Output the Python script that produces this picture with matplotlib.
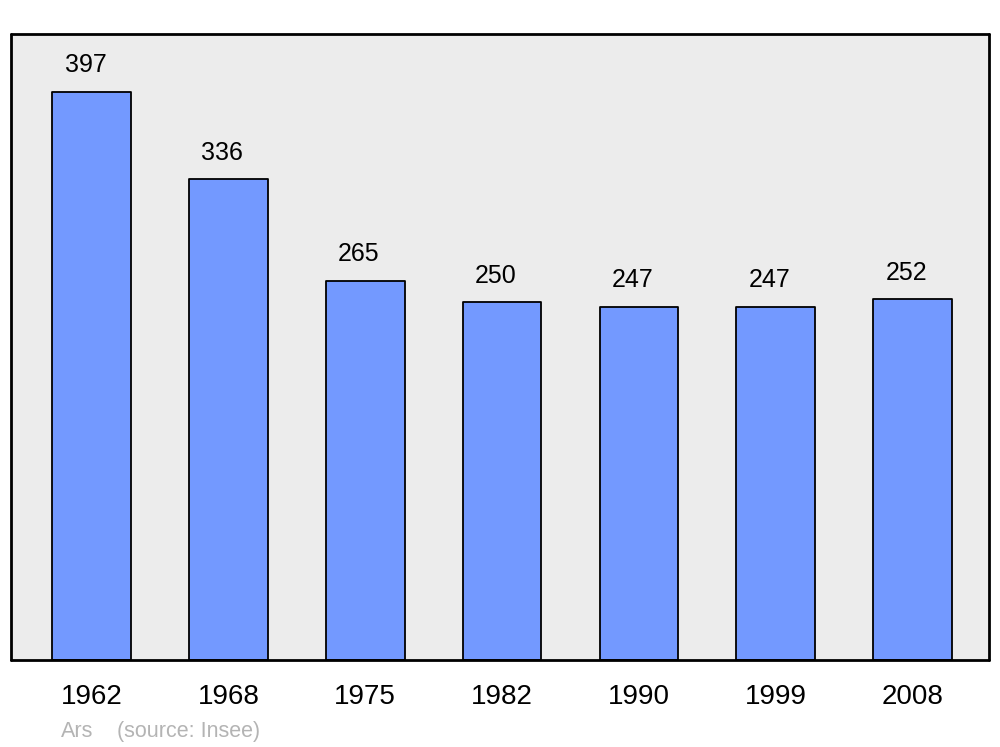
import matplotlib
matplotlib.use("Agg")
import matplotlib.pyplot as plt

years = ["1962", "1968", "1975", "1982", "1990", "1999", "2008"]
population = [397, 336, 265, 250, 247, 247, 252]

plt.rcParams["font.family"] = ["Liberation Sans", "DejaVu Sans"]

fig = plt.figure(figsize=(10, 7.47), dpi=100)
ax = fig.add_axes([0.011, 87 / 747, 0.978, 626 / 747])
ax.set_facecolor("#ececec")

x = list(range(len(years)))
bars = ax.bar(x, population, width=0.575, color="#7399ff", edgecolor="black",
              linewidth=1.3, joinstyle="round")

# value labels sit a little left of the bar centre, as in the original
for xi, v in zip(x, population):
    ax.annotate(str(v), (xi, v), xytext=(-4.5, 10.5), textcoords="offset points",
                ha="center", va="bottom", fontsize=18)

ax.set_xlim(-0.59, 6.56)
ax.set_ylim(0, 437.5)
ax.set_xticks(x)
ax.set_xticklabels(years, fontsize=20)
ax.tick_params(axis="x", length=0, pad=17)
ax.set_yticks([])
for s in ax.spines.values():
    s.set_linewidth(2)
    s.set_capstyle("round")
    s.set_joinstyle("round")

base = 1 - 737 / 747
fig.text(0.061, base, "Ars", color="#b4b4b4", fontsize=15.5, va="baseline")
fig.text(0.117, base, "(source: Insee)", color="#b4b4b4", fontsize=15.5, va="baseline")

fig.savefig("out.png", dpi=100)
